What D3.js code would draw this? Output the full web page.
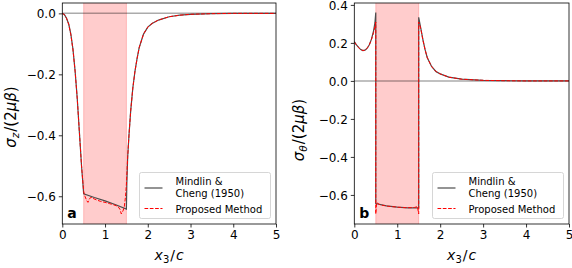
<!DOCTYPE html>
<html>
<head>
<meta charset="utf-8">
<script src="https://cdn.jsdelivr.net/npm/d3@7"></script>
<style>
  body { margin: 0; background: #fff; }
  svg { display: block; }
</style>
</head>
<body>
<script>
const width = 572;
const height = 268;

// x3/c ticks and the loaded band
const xTicks = [0, 1, 2, 3, 4, 5];
const band = [0.5, 1.5];

// panel a: sigma_z / (2 mu beta)
const yTicksA = [0, -0.2, -0.4, -0.6];
const mindlinA = [
  [0, 0], [0.05, -0.004], [0.1, -0.016], [0.15, -0.035], [0.2, -0.068],
  [0.25, -0.118], [0.3, -0.19], [0.35, -0.28], [0.4, -0.39], [0.45, -0.5],
  [0.5, -0.592], [0.75, -0.604], [1.0, -0.615], [1.25, -0.628], [1.5, -0.642],
  [1.51, -0.56], [1.53, -0.47], [1.56, -0.4], [1.6, -0.32], [1.65, -0.245],
  [1.7, -0.19], [1.75, -0.148], [1.8, -0.112], [1.9, -0.068], [2.0, -0.045],
  [2.1, -0.033], [2.25, -0.022], [2.5, -0.011], [2.75, -0.006], [3.0, -0.003],
  [3.5, -0.001], [4.0, 0], [5.0, 0]
];
const proposedA = [
  [0, 0], [0.05, -0.004], [0.1, -0.017], [0.15, -0.036], [0.2, -0.07],
  [0.25, -0.12], [0.3, -0.19], [0.35, -0.28], [0.4, -0.39], [0.45, -0.5],
  [0.5, -0.585], [0.53, -0.6], [0.57, -0.614], [0.6, -0.62], [0.63, -0.61],
  [0.67, -0.603], [0.72, -0.607], [0.8, -0.612], [0.9, -0.617], [1.0, -0.62],
  [1.1, -0.624], [1.2, -0.628], [1.3, -0.633], [1.35, -0.643], [1.38, -0.658],
  [1.42, -0.648], [1.45, -0.635], [1.48, -0.6], [1.5, -0.56], [1.53, -0.47],
  [1.56, -0.4], [1.6, -0.32], [1.65, -0.245], [1.7, -0.19], [1.75, -0.148],
  [1.8, -0.112], [1.9, -0.068], [2.0, -0.045], [2.1, -0.033], [2.25, -0.022],
  [2.5, -0.011], [2.75, -0.006], [3.0, -0.003], [3.5, -0.001], [4.0, 0], [5.0, 0]
];

// panel b: sigma_theta / (2 mu beta)
const yTicksB = [0.4, 0.2, 0, -0.2, -0.4, -0.6];
const mindlinB = [
  [0, 0.207], [0.05, 0.19], [0.1, 0.176], [0.15, 0.165], [0.2, 0.16],
  [0.25, 0.162], [0.3, 0.172], [0.35, 0.19], [0.4, 0.22], [0.45, 0.265],
  [0.48, 0.305], [0.5, 0.36], [0.5, -0.645], [0.75, -0.658], [1.0, -0.664],
  [1.25, -0.668], [1.5, -0.668], [1.5, 0.335], [1.55, 0.275], [1.6, 0.215],
  [1.65, 0.163], [1.7, 0.122], [1.8, 0.076], [1.9, 0.05], [2.0, 0.037],
  [2.2, 0.02], [2.5, 0.009], [3.0, 0.003], [3.5, 0.001], [4.0, 0], [5.0, 0]
];
const proposedB = [
  [0, 0.205], [0.05, 0.189], [0.1, 0.175], [0.15, 0.165], [0.2, 0.16],
  [0.25, 0.162], [0.3, 0.172], [0.35, 0.19], [0.4, 0.218], [0.45, 0.255],
  [0.48, 0.285], [0.5, 0.31], [0.5, -0.7], [0.52, -0.64], [0.55, -0.645],
  [0.6, -0.652], [0.7, -0.656], [0.8, -0.66], [0.9, -0.662], [1.0, -0.664],
  [1.1, -0.666], [1.2, -0.667], [1.3, -0.667], [1.4, -0.666], [1.47, -0.662],
  [1.5, -0.7], [1.5, 0.31], [1.53, 0.29], [1.55, 0.272], [1.6, 0.213],
  [1.65, 0.162], [1.7, 0.122], [1.8, 0.076], [1.9, 0.05], [2.0, 0.037],
  [2.2, 0.02], [2.5, 0.009], [3.0, 0.003], [3.5, 0.001], [4.0, 0], [5.0, 0]
];

const legendLabels = [["Mindlin &", "Cheng (1950)"], ["Proposed Method"]];

const font = 'DejaVu Sans';

const svg = d3.select('body')
  .append('svg')
  .attr('width', width)
  .attr('height', height)
  .attr('font-family', font);

function panel(opts) {
  const x = d3.scaleLinear().domain([0, 5]).range([opts.left, opts.right]);
  const y = d3.scaleLinear().domain(opts.yDomain).range([opts.bottom, opts.top]);
  const g = svg.append('g');

  const clipId = 'clip' + opts.letter;
  g.append('clipPath').attr('id', clipId)
    .append('rect')
    .attr('x', opts.left).attr('y', opts.top)
    .attr('width', opts.right - opts.left).attr('height', opts.bottom - opts.top);

  const plot = g.append('g').attr('clip-path', `url(#${clipId})`);

  plot.append('rect')
    .attr('x', x(band[0])).attr('y', opts.top - 2)
    .attr('width', x(band[1]) - x(band[0]))
    .attr('height', opts.bottom - opts.top + 4)
    .attr('fill', 'rgba(255,0,0,0.2)')
    .attr('stroke', 'rgba(255,0,0,0.2)')
    .attr('stroke-width', 1);

  plot.append('line')
    .attr('x1', opts.left).attr('x2', opts.right)
    .attr('y1', y(0)).attr('y2', y(0))
    .attr('stroke', 'rgba(0,0,0,0.33)')
    .attr('stroke-width', 1.5);

  const line = d3.line().x(d => x(d[0])).y(d => y(d[1]));

  plot.append('path')
    .attr('d', line(opts.ref))
    .attr('fill', 'none')
    .attr('stroke', '#4d4d4d')
    .attr('stroke-width', 1.2);

  plot.append('path')
    .attr('d', line(opts.model))
    .attr('fill', 'none')
    .attr('stroke', '#ff0000')
    .attr('stroke-width', 1)
    .attr('stroke-dasharray', '3.7,1.6');

  // axes
  const xAxis = d3.axisBottom(x).tickValues(xTicks).tickSize(3.5).tickPadding(3)
    .tickFormat(d3.format('d'));
  const gx = g.append('g')
    .attr('transform', `translate(0, ${opts.bottom})`)
    .call(xAxis);
  const yAxis = d3.axisLeft(y).tickValues(opts.yTicks).tickSize(3.5).tickPadding(3)
    .tickFormat(d => d3.format('.1f')(d).replace('-', '\u2212'));
  const gy = g.append('g')
    .attr('transform', `translate(${opts.left}, 0)`)
    .call(yAxis);
  [gx, gy].forEach(a => {
    a.attr('font-family', font).attr('font-size', 12);
    a.select('.domain').remove();
    a.selectAll('.tick line').attr('stroke', '#000').attr('stroke-width', 0.8);
    a.selectAll('.tick text').attr('fill', '#000');
  });
  gy.selectAll('.tick text').attr('dy', '0.36em');

  g.append('rect')
    .attr('x', opts.left).attr('y', opts.top)
    .attr('width', opts.right - opts.left).attr('height', opts.bottom - opts.top)
    .attr('fill', 'none').attr('stroke', '#000').attr('stroke-width', 0.8);

  // axis labels
  const xl = g.append('text')
    .attr('x', (opts.left + opts.right) / 2)
    .attr('y', 260)
    .attr('text-anchor', 'middle')
    .attr('font-size', 14)
    .attr('font-style', 'italic');
  xl.append('tspan').text('x');
  xl.append('tspan').attr('font-size', 10).attr('dy', 3).attr('font-style', 'normal').text('3');
  xl.append('tspan').attr('dy', -3).attr('dx', 1).attr('font-style', 'normal').text('/');
  xl.append('tspan').attr('dx', 1).text('c');

  const yl = g.append('text')
    .attr('transform', `translate(${opts.labelX}, ${opts.labelY}) rotate(-90)`)
    .attr('text-anchor', 'middle')
    .attr('font-size', 15)
    .attr('font-style', 'italic');
  yl.append('tspan').text('σ');
  yl.append('tspan').attr('font-size', 10.5).attr('dy', 3).text(opts.sub);
  yl.append('tspan').attr('dy', -3).attr('dx', 1).attr('font-style', 'normal').text('/(2');
  yl.append('tspan').text('μβ');
  yl.append('tspan').attr('font-style', 'normal').text(')');

  // panel letter
  g.append('text')
    .attr('x', opts.left + 5).attr('y', opts.bottom - 6)
    .attr('font-size', 14)
    .attr('font-weight', 'bold')
    .text(opts.letter);

  // legend
  const lx = opts.legendX, ly = 172.5, lw = 131, lh = 46;
  const lg = g.append('g').attr('font-size', 10);
  lg.append('rect')
    .attr('x', lx).attr('y', ly).attr('width', lw).attr('height', lh)
    .attr('rx', 2).attr('fill', 'rgba(255,255,255,0.85)')
    .attr('stroke', '#cccccc').attr('stroke-width', 0.8);
  lg.append('line')
    .attr('x1', lx + 5).attr('x2', lx + 23).attr('y1', ly + 15.5).attr('y2', ly + 15.5)
    .attr('stroke', '#4d4d4d').attr('stroke-width', 1.2);
  lg.append('line')
    .attr('x1', lx + 5).attr('x2', lx + 23).attr('y1', ly + 36).attr('y2', ly + 36)
    .attr('stroke', '#ff0000').attr('stroke-width', 1).attr('stroke-dasharray', '3.7,1.6');
  lg.append('text').attr('x', lx + 36).attr('y', ly + 12).text(legendLabels[0][0]);
  lg.append('text').attr('x', lx + 36).attr('y', ly + 24.5).text(legendLabels[0][1]);
  lg.append('text').attr('x', lx + 36).attr('y', ly + 40).text(legendLabels[1][0]);
}

panel({
  letter: 'a', sub: 'z',
  left: 62.3, right: 276, top: 3, bottom: 224,
  yDomain: [-0.691, 0.034], yTicks: yTicksA,
  ref: mindlinA, model: proposedA,
  labelX: 16, labelY: 117, legendX: 139.5
});

panel({
  letter: 'b', sub: 'θ',
  left: 354.3, right: 569, top: 3, bottom: 224,
  yDomain: [-0.753, 0.41], yTicks: yTicksB,
  ref: mindlinB, model: proposedB,
  labelX: 304, labelY: 130, legendX: 432.5
});
</script>
</body>
</html>
